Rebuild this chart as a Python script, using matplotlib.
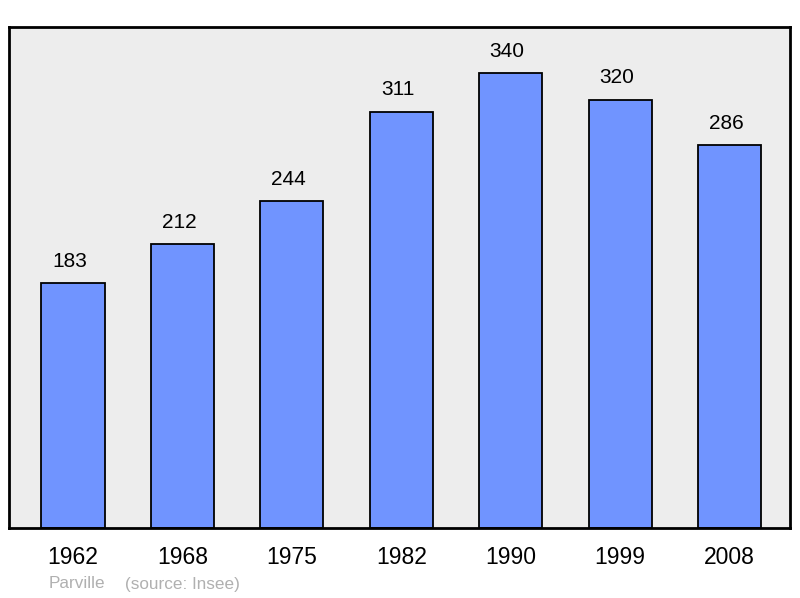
import matplotlib.pyplot as plt

years = ['1962', '1968', '1975', '1982', '1990', '1999', '2008']
population = [183, 212, 244, 311, 340, 320, 286]

plt.rcParams['font.family'] = ['Liberation Sans', 'DejaVu Sans']

fig = plt.figure(figsize=(8, 5.98), dpi=100)
ax = fig.add_axes([9/800, 70/598, 781/800, 501/598])
ax.set_facecolor('#ededed')

x = range(len(years))
bars = ax.bar(x, population, width=0.576, color='#7094ff', edgecolor='black', linewidth=1.3)

# les étiquettes sont un peu décalées à gauche dans l'original
for xi, v in zip(x, population):
    ax.annotate(str(v), (xi, v), xytext=(-2.5, 9), textcoords='offset points',
                ha='center', va='bottom', fontsize=15)

ax.set_xlim(-0.585, 6.553)
ax.set_ylim(0, 374.4)
ax.set_xticks(list(x))
ax.set_xticklabels(years, fontsize=16.5)
ax.tick_params(axis='x', length=0, pad=13)
ax.set_yticks([])
for s in ax.spines.values():
    s.set_linewidth(2)

fig.text(49/800, 1 - 584/598, 'Parville', color='#b0b0b0', fontsize=12.3, va='center')
fig.text(125/800, 1 - 584/598, '(source: Insee)', color='#b0b0b0', fontsize=12.3, va='center')

plt.savefig('out.png', dpi=100)
